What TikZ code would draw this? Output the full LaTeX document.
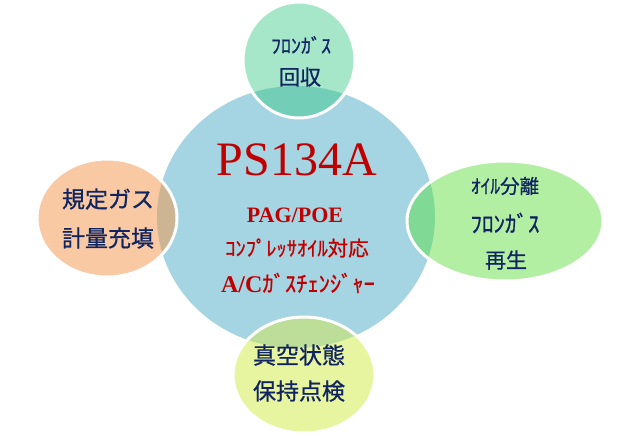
\documentclass[tikz,border=0pt]{standalone}
\usepackage{fontspec}
\setmainfont{Liberation Serif}
\newfontfamily\jp{Noto Sans CJK JP}
\newfontfamily\jpm[FakeBold=0.8]{Noto Sans CJK JP}
\definecolor{cblue}{HTML}{A5D4E2}
\definecolor{ctop}{HTML}{A6E7CA}
\definecolor{ctopo}{HTML}{72CEB6}
\definecolor{cright}{HTML}{B3EFA3}
\definecolor{crighto}{HTML}{80D994}
\definecolor{cleft}{HTML}{F9C9A3}
\definecolor{clefto}{HTML}{CDB594}
\definecolor{cbot}{HTML}{E8F5A0}
\definecolor{cboto}{HTML}{BCDE99}
\definecolor{navy}{HTML}{10245F}
\definecolor{cred}{HTML}{C00000}
\tikzset{
  navytxt/.style={inner sep=0pt, text=navy, font=\jpm},
  redtxt/.style={inner sep=0pt, text=cred},
  rim/.style={draw=white, line width=3pt},
}
\newcommand{\fsz}[1]{\fontsize{#1pt}{#1pt}\selectfont}
\newcommand{\petal}[5]{%
  \fill[#4] #1 ellipse [x radius=#2, y radius=#3];
  \begin{scope}
    \clip (296,217) ellipse [x radius=139, y radius=131];
    \fill[#5] #1 ellipse [x radius=#2, y radius=#3];
  \end{scope}
  \draw[rim] #1 ellipse [x radius=#2, y radius=#3];
}
\begin{document}
\begin{tikzpicture}[x=1pt,y=-1pt]
\useasboundingbox (0,0) rectangle (626,436);
% central ellipse
\fill[cblue] (296,217) ellipse [x radius=139, y radius=131];
\petal{(299,60)}{56}{58}{ctop}{ctopo}
\petal{(505,221)}{98}{60}{cright}{crighto}
\petal{(107,218)}{70}{59}{cleft}{clefto}
\petal{(304,375)}{71}{58}{cbot}{cboto}
% top
\node[navytxt, font=\jpm\fsz{20}] (t1) at (301,45) {ﾌﾛﾝｶﾞｽ};
\node[navytxt, font=\jpm\fsz{21}] (t2) at (300,77) {回収};
% center
\node[redtxt, font=\fsz{48}] (c1) at (297,160) {PS134A};
\node[redtxt, font=\bfseries\fsz{22}] (c2) at (295,215) {PAG/POE};
\node[redtxt, font=\jpm\fsz{20.5}] (c3) at (297,248) {ｺﾝﾌﾟﾚｯｻｵｲﾙ対応};
\node[redtxt] (c4) at (298,283) {{\bfseries\fsz{24}A/C}{\jpm\fsz{22.5}ｶﾞｽﾁｪﾝｼﾞｬｰ}};
% right
\node[navytxt, font=\jpm\fsz{19.5}] (r1) at (505,186) {ｵｲﾙ分離};
\node[navytxt, font=\jpm\fsz{23}] (r2) at (505,223) {ﾌﾛﾝｶﾞｽ};
\node[navytxt, font=\jpm\fsz{21}] (r3) at (506,260) {再生};
% left
\node[navytxt, font=\jpm\fsz{23}] (l1) at (108,199) {規定ガス};
\node[navytxt, font=\jpm\fsz{23}] (l2) at (108,238) {計量充填};
% bottom
\node[navytxt, font=\jpm\fsz{23}] (b1) at (299,355) {真空状態};
\node[navytxt, font=\jpm\fsz{23}] (b2) at (299,391) {保持点検};
\end{tikzpicture}
\end{document}
